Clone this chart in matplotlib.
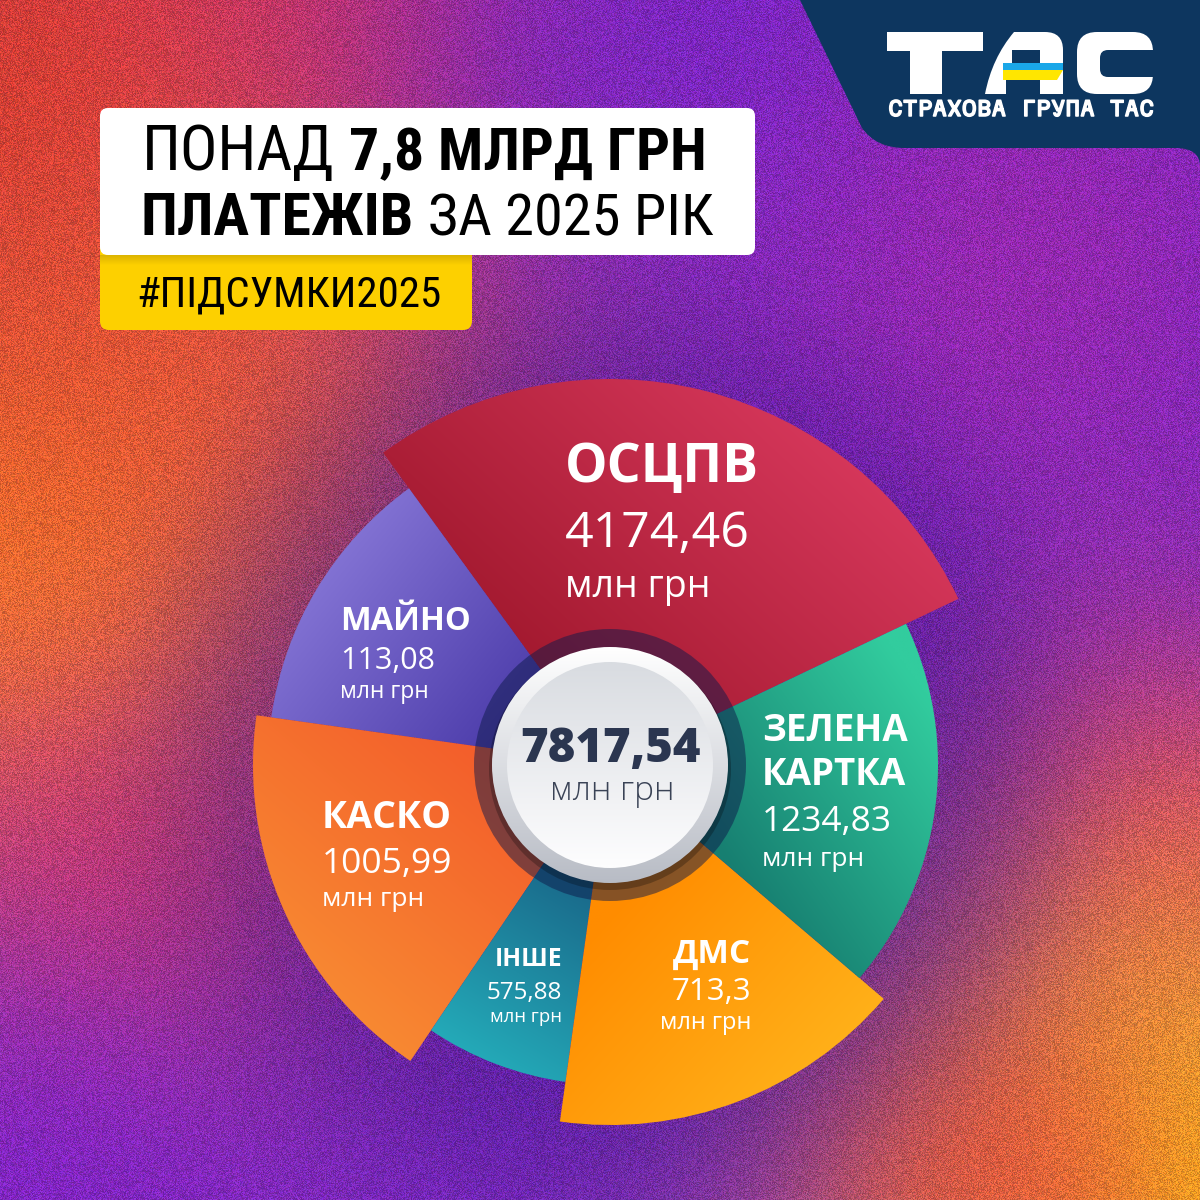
import numpy as np
import matplotlib
matplotlib.use("Agg")
import matplotlib.pyplot as plt
import matplotlib.patheffects as pe
from matplotlib.patches import Wedge, Circle, FancyBboxPatch, PathPatch, Rectangle
from matplotlib.path import Path
from matplotlib.colors import to_rgb
from matplotlib import font_manager as fm

W = H = 1200

# --- data -------------------------------------------------------------
categories = ["ОСЦПВ", "МАЙНО", "КАСКО", "ІНШЕ", "ДМС", "ЗЕЛЕНА\nКАРТКА"]
values = [4174.46, 113.08, 1005.99, 575.88, 713.3, 1234.83]
total = 7817.54
unit = "млн грн"
title_1 = ("ПОНАД", "7,8 МЛРД ГРН")
title_2 = ("ПЛАТЕЖІВ", "ЗА 2025 РІК")
hashtag = "#ПІДСУМКИ2025"
brand = "СТРАХОВА ГРУПА ТАС"

# --- rose layout (design angles, not proportional to values) ----------
CX, CY = 610, 765
start_deg = 25.5
span_deg = [100.5, 46, 64, 26, 57.5, 66]
radius_px = [386, 342, 357, 320, 360, 328]
slice_colors = [("#a41a30", "#d6375b"), ("#4434a4", "#8777d7"),
                ("#f2552a", "#f88a32"), ("#1a6d8d", "#24abb9"),
                ("#ff8c00", "#ffb51c"), ("#177f71", "#32cc9e")]
grad_pts = [((580, 700), (830, 430)), ((560, 730), (320, 540)),
            ((560, 740), (330, 1010)), ((570, 890), (470, 1060)),
            ((640, 880), (860, 1080)), ((720, 850), (930, 700))]
label_x = [565, 340, 322, 562, 751, 762]
label_ha = ["left", "left", "left", "right", "right", "left"]
label_base = [(482, 547, 597), (630, 669, 698), (828, 873, 906),
              (966, 999, 1022), (963, 1000, 1029), (741, 831, 866)]
label_size = [(38.5, 36, 27), (23.5, 22, 16.5), (27, 25.5, 19),
              (17.7, 17.5, 13.3), (24, 22.5, 17), (26.5, 25.5, 19)]

BLOBS = [(0, 520, 330, "#f47a2c", 1.0), (60, 80, 260, "#d03c30", 1.0),
         (330, 20, 170, "#e03848", 0.8), (200, 330, 170, "#ea5a2e", 0.7),
         (1000, 250, 220, "#b22c9a", 0.5), (1180, 870, 170, "#d83860", 0.8),
         (1200, 1200, 250, "#f8b41c", 1.0), (1000, 1180, 140, "#e04a3a", 0.7),
         (110, 880, 140, "#d83a5c", 0.7), (40, 1150, 200, "#7a1ed0", 0.6),
         (560, 60, 200, "#6a22d4", 0.6)]


def font_or(cands, fallback):
    names = {f.name for f in fm.fontManager.ttflist}
    for c in cands:
        if c in names:
            return c
    return fallback


def background():
    yy, xx = np.mgrid[0:H, 0:W].astype(float) + 0.5
    img = np.ones((H, W, 3)) * np.array(to_rgb("#7626c4"))
    for x, y, s, c, a in BLOBS:
        w = a * np.exp(-((xx - x) ** 2 + (yy - y) ** 2) / (2 * s * s))
        img = img * (1 - w[..., None]) + np.array(to_rgb(c)) * w[..., None]
    # soft dark halo behind the rose
    d = np.hypot(xx - CX, yy - CY)
    w = 0.45 * np.exp(-(d / 450) ** 6)
    img = img * (1 - w[..., None]) + np.array(to_rgb("#32108a")) * w[..., None]

    def grain(a, b):
        v = np.sin(xx * a + yy * b) * 43758.5453
        return v - np.floor(v) - 0.5
    n1, n2, n3 = grain(12.9898, 78.233), grain(39.346, 11.135), grain(73.156, 52.235)
    img = img * (1 + 0.38 * n1)[..., None]
    img += 0.07 * np.stack([n2, n3, -n2], -1)
    return np.clip(img, 0, 1)


def grad_fill(ax, patch, c0, c1, p0, p1, bbox, z):
    patch.set_facecolor("none")
    patch.set_edgecolor("none")
    ax.add_patch(patch)
    x0, x1, y0, y1 = bbox
    X, Y = np.meshgrid(np.linspace(x0, x1, 300), np.linspace(y0, y1, 300))
    d = np.subtract(p1, p0)
    t = ((X - p0[0]) * d[0] + (Y - p0[1]) * d[1]) / float(d @ d)
    t = np.clip(t, 0, 1)[..., None]
    img = np.array(to_rgb(c0)) * (1 - t) + np.array(to_rgb(c1)) * t
    im = ax.imshow(img, extent=(x0, x1, y1, y0), origin="upper", zorder=z,
                   interpolation="bilinear")
    im.set_clip_path(patch)


fig = plt.figure(figsize=(12, 12), dpi=100)
ax = fig.add_axes([0, 0, 1, 1])
ax.set_axis_off()
ax.imshow(background(), extent=(0, W, H, 0), origin="upper", zorder=0,
          interpolation="nearest")
ax.set_xlim(0, W)
ax.set_ylim(H, 0)
ax.set_autoscale_on(False)
r = fig.canvas.get_renderer()

# --- logo panel -------------------------------------------------------
navy = "#0d365f"
panel = Path([(800, 0), (862, 128), (876, 148), (905, 148), (1175, 148),
              (1200, 148), (1200, 166), (1200, 0), (800, 0)],
             [Path.MOVETO, Path.LINETO, Path.CURVE3, Path.CURVE3, Path.LINETO,
              Path.CURVE3, Path.CURVE3, Path.LINETO, Path.CLOSEPOLY])
ax.add_patch(PathPatch(panel, fc=navy, ec="none", zorder=1))
ax.add_patch(Rectangle((887, 32), 96, 19, fc="white", ec="none", zorder=2))
ax.add_patch(Rectangle((910, 50), 32, 44, fc="white", ec="none", zorder=2))
a_out = Path([(985, 94), (992, 58), (1014, 32), (1045, 32), (1063, 32),
              (1063, 50), (1063, 94), (985, 94)],
             [Path.MOVETO, Path.CURVE3, Path.CURVE3, Path.LINETO, Path.CURVE3,
              Path.CURVE3, Path.LINETO, Path.CLOSEPOLY])
ax.add_patch(PathPatch(a_out, fc="white", ec="none", zorder=2))
ax.add_patch(Rectangle((1012, 50), 28, 13, fc=navy, ec="none", zorder=2.1))
ax.add_patch(Rectangle((1006, 80), 34, 15, fc=navy, ec="none", zorder=2.1))
ax.add_patch(Rectangle((1003, 63), 60, 7, fc="#1aa7e8", ec="none", zorder=2.2))
ax.add_patch(PathPatch(Path([(1003, 70), (1063, 70), (1057, 80), (1003, 80)]),
                       fc="#ffe600", ec="none", zorder=2.2))
ax.add_patch(FancyBboxPatch((1077, 32), 76, 62, boxstyle="round,pad=0,rounding_size=20",
                            fc="white", ec="none", zorder=2))
ax.add_patch(FancyBboxPatch((1100, 50), 70, 27, boxstyle="round,pad=0,rounding_size=8",
                            fc=navy, ec="none", zorder=2.1))
wide = font_or(["Martian Mono"], "DejaVu Sans")
bt = ax.text(888, 116, brand, color="white", fontsize=12, fontweight="bold",
             family=wide, stretch="expanded", ha="left", va="baseline", zorder=3,
             path_effects=[pe.withStroke(linewidth=1.1, foreground="white")])
bw = bt.get_window_extent(r).width
bt.set_fontsize(12 * 266 / bw)

# --- title boxes ------------------------------------------------------
ax.add_patch(FancyBboxPatch((100, 240), 372, 90, boxstyle="round,pad=0,rounding_size=9",
                            fc="#fdd000", ec="none", zorder=1))
grad_fill(ax, Rectangle((100, 255), 372, 10), "#dcb300", "#fdd000", (0, 255), (0, 265),
          (100, 472, 255, 265), 1.1)
ax.add_patch(FancyBboxPatch((100, 108), 655, 147, boxstyle="round,pad=0,rounding_size=8",
                            fc="white", ec="none", zorder=1.2))
cond = {"family": font_or(["Roboto Condensed", "Liberation Sans Narrow"], "DejaVu Sans")}


def two_runs(x, y, runs):
    for s, wt, size in runs:
        t = ax.text(x, y, s, fontsize=size, fontweight=wt, color="black",
                    ha="left", va="baseline", zorder=3, **cond)
        x = t.get_window_extent(r).x1 + 14


two_runs(142, 170, [(title_1[0], "normal", 45), (title_1[1], "bold", 43)])
two_runs(141, 235, [(title_2[0], "bold", 43), (title_2[1], "normal", 42)])
ax.text(136, 307, hashtag, fontsize=31, color="black", ha="left", va="baseline",
        zorder=3, **cond)

# --- rose -------------------------------------------------------------
a = start_deg
for i, (span, rad) in enumerate(zip(span_deg, radius_px)):
    wdg = Wedge((CX, CY), rad, -(a + span), -a)
    grad_fill(ax, wdg, slice_colors[i][0], slice_colors[i][1], grad_pts[i][0],
              grad_pts[i][1], (CX - rad, CX + rad, CY - rad, CY + rad), 3)
    a += span

ax.add_patch(Circle((CX, CY), 136, fc="#0e1a4a", alpha=0.5, ec="none", zorder=4))
ax.add_patch(Circle((CX, CY + 4), 121, fc="black", alpha=0.25, ec="none", zorder=4.2))
grad_fill(ax, Circle((CX, CY), 118), "#ffffff", "#b8bcc5", (CX, CY - 118), (CX, CY + 118),
          (CX - 120, CX + 120, CY - 120, CY + 120), 4.5)
grad_fill(ax, Circle((CX, CY), 103), "#d9dce1", "#fdfdfe", (CX, CY - 100), (CX, CY + 100),
          (CX - 105, CX + 105, CY - 105, CY + 105), 4.6)

for i, cat in enumerate(categories):
    x, ha = label_x[i], label_ha[i]
    b1, b2, b3 = label_base[i]
    s1, s2, s3 = label_size[i]
    kw = dict(color="white", ha=ha, va="baseline", zorder=6, family="Open Sans")
    for k, line in enumerate(cat.split("\n")):
        ax.text(x, b1 + 44 * k, line, fontsize=s1, fontweight="bold", **kw)
    ax.text(x, b2, f"{values[i]:g}".replace(".", ","), fontsize=s2, **kw)
    ax.text(x, b3, unit, fontsize=s3, **kw)

ax.text(CX, 762, f"{total:g}".replace(".", ","), fontsize=34, fontweight="heavy",
        color="#2b3650", ha="center", va="baseline", family="Open Sans", zorder=6)
ax.text(CX + 2, 800, unit, fontsize=24, fontweight="light", color="#3a4356",
        ha="center", va="baseline", family="Open Sans", zorder=6)

ax.set_xlim(0, W)
ax.set_ylim(H, 0)
fig.savefig("out.png", dpi=100)
